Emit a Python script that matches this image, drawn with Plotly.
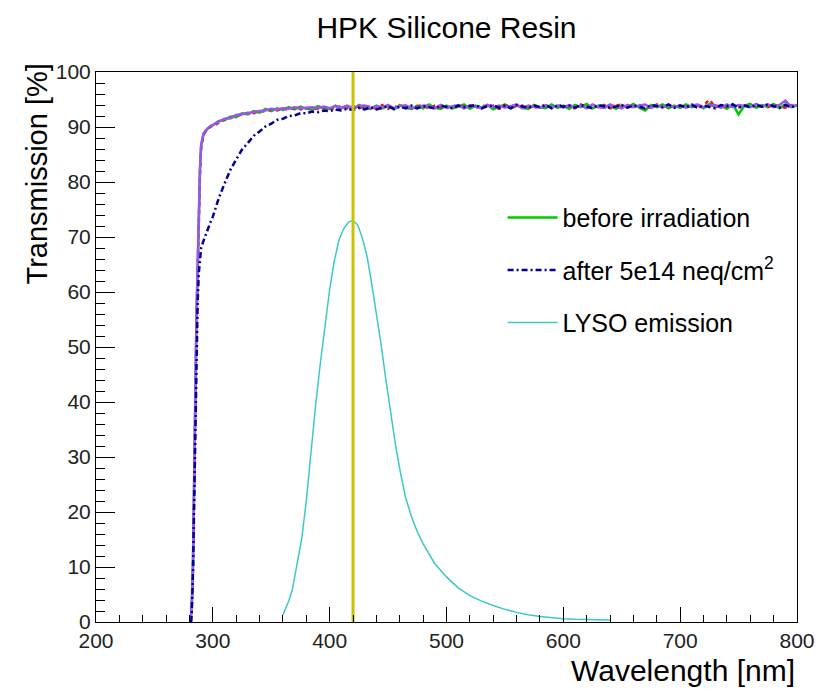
import plotly.graph_objects as go

# ---------------- data ----------------
edge_wl = [281, 282, 283, 284, 285, 286, 287, 288, 289, 290, 291, 292, 294, 296, 298]
main_wl = list(range(300, 801, 5))

before_edge = [0, 3, 10, 22, 40, 55, 66, 75, 82, 86.5, 88.0, 88.7, 89.3, 89.8, 90.0]
before_main = [
    90.3, 91.1, 91.2, 91.9, 91.8, 92.5, 92.3, 92.9, 92.6, 93.3, 92.9, 93.4, 93.1, 93.6, 93.2, 93.7, 93.3, 93.2, 93.8, 93.4,
    93.3, 93.9, 93.4, 93.8, 93.2, 94.0, 93.5, 93.3, 93.9, 93.4, 93.8, 93.2, 94.0, 93.5, 93.3, 93.9, 93.4, 94.1, 93.5, 93.3,
    93.9, 93.4, 93.7, 94.1, 93.3, 93.9, 93.5, 94.0, 93.2, 93.7, 94.1, 93.4, 93.9, 93.5, 93.3, 94.0, 93.6, 93.4, 94.1, 93.5,
    93.9, 93.3, 94.0, 93.6, 94.2, 93.4, 93.9, 93.5, 94.1, 93.3, 93.9, 93.6, 94.2, 93.5, 93.0, 94.0, 93.6, 94.1, 93.4, 93.9,
    93.5, 94.1, 93.6, 94.0, 93.4, 94.2, 93.6, 93.9, 93.3, 94.1, 92.3, 93.9, 94.2, 93.5, 94.0, 93.6, 94.2, 93.4, 94.1, 93.6,
    93.9]

sampleB_edge = [0, 2.5, 9, 21, 39, 54, 65.5, 74.5, 81.5, 86.2, 87.9, 88.6, 89.2, 89.7, 90.1]
sampleB_main = [
    90.1, 90.8, 91.4, 91.6, 92.1, 92.2, 92.6, 92.5, 92.9, 92.8, 93.2, 93.0, 93.4, 93.1, 93.5, 93.2, 93.5, 93.3, 93.3, 93.6,
    93.5, 93.2, 93.9, 93.4, 93.8, 93.3, 93.9, 93.6, 93.3, 94.0, 93.3, 93.8, 93.5, 93.9, 93.4, 93.8, 94.0, 93.3, 93.9, 93.6,
    93.4, 94.0, 93.5, 93.8, 93.9, 93.4, 94.1, 93.5, 93.9, 93.3, 93.8, 94.0, 93.5, 93.9, 93.6, 93.4, 94.0, 93.7, 93.5, 93.8,
    94.0, 93.6, 93.4, 94.1, 93.5, 93.9, 93.6, 94.0, 93.4, 93.9, 94.1, 93.5, 93.8, 94.0, 93.7, 93.5, 94.1, 93.6, 93.9, 93.5,
    93.9, 93.6, 94.1, 93.5, 93.9, 95.0, 93.6, 94.0, 93.5, 93.9, 93.6, 94.1, 93.5, 94.0, 93.7, 93.6, 94.1, 93.7, 93.5, 94.0,
    93.6]

sampleC_edge = [0, 3.5, 11, 23, 41, 56, 67, 76, 82.5, 86.8, 88.2, 88.8, 89.4, 89.9, 90.2]
sampleC_main = [
    90.4, 90.9, 91.5, 91.6, 92.2, 92.3, 92.5, 92.8, 92.9, 93.0, 93.3, 93.2, 93.4, 93.3, 93.6, 93.4, 93.5, 93.6, 93.4, 93.7,
    93.4, 93.8, 93.5, 93.9, 93.4, 93.8, 93.9, 93.4, 93.8, 93.5, 94.0, 93.4, 93.8, 93.9, 93.5, 93.4, 93.9, 93.8, 93.4, 94.0,
    93.5, 93.8, 94.0, 93.4, 93.9, 93.7, 93.4, 94.0, 93.6, 93.9, 93.5, 93.8, 94.1, 93.4, 93.9, 93.7, 93.5, 94.0, 93.6, 93.9,
    93.5, 94.0, 93.6, 93.9, 93.4, 94.1, 93.6, 93.5, 94.0, 93.8, 93.4, 94.0, 93.6, 93.9, 94.1, 93.5, 93.9, 93.6, 94.0, 93.6,
    94.0, 93.5, 93.9, 94.1, 93.6, 93.9, 94.0, 93.5, 94.1, 93.6, 94.0, 93.8, 93.6, 94.2, 93.7, 94.1, 93.6, 94.0, 94.8, 93.7,
    94.0]

after_edge_wl = [281.5, 282, 283, 284, 285, 286, 287, 288, 289, 290, 292, 294, 296, 298]
after_edge = [0, 2, 9, 20, 36, 49, 58, 63.5, 66.5, 68, 69.3, 70.5, 71.6, 72.7]
after_main = [
    73.7, 77.0, 79.7, 82.2, 84.1, 85.9, 87.1, 88.4, 89.2, 90.1, 90.6, 91.3, 91.5, 92.0, 92.1, 92.5, 92.5, 92.8, 92.7, 93.0,
    92.9, 93.2, 93.0, 93.3, 93.1, 93.5, 93.2, 93.6, 93.2, 93.5, 93.8, 93.3, 93.7, 93.4, 93.9, 93.4, 93.8, 93.6, 93.4, 93.9,
    93.6, 93.4, 93.9, 93.6, 93.8, 94.0, 93.4, 93.8, 93.9, 93.5, 93.9, 93.4, 94.0, 93.7, 93.5, 93.9, 93.6, 94.0, 93.4, 93.9,
    93.7, 93.9, 93.5, 94.0, 93.7, 93.4, 94.0, 93.8, 93.5, 93.7, 94.0, 93.5, 93.9, 93.7, 93.4, 94.0, 93.8, 93.6, 94.1, 93.5,
    93.9, 93.6, 94.0, 93.5, 93.9, 93.7, 93.4, 94.0, 93.8, 94.1, 93.5, 93.9, 93.6, 94.0, 93.7, 94.1, 93.8, 93.5, 94.0, 93.6,
    93.9]

lyso_wl = [360, 362, 365, 368, 372, 376, 380, 384, 388, 392, 396, 400, 404, 408, 412, 416, 420,
           424, 428, 432, 436, 440, 444, 448, 452, 456, 460, 465, 470, 475, 480, 485, 490,
           500, 510, 520, 530, 540, 550, 560, 570, 580, 590, 600, 610, 620, 630, 640]
lyso_em = [1.3, 2.3, 3.8, 5.8, 10.5, 15.0, 22.0, 31.0, 39.5, 47.0, 54.0, 60.5, 65.7, 69.5, 71.5, 72.7, 73.0,
           72.2, 69.8, 66.5, 61.5, 56.3, 50.5, 44.2, 38.0, 32.7, 27.8, 22.6, 19.2, 16.4, 14.2, 12.3, 10.6,
           8.2, 6.2, 4.8, 3.8, 3.0, 2.3, 1.75, 1.3, 1.0, 0.75, 0.6, 0.5, 0.45, 0.4, 0.35]

marker_wl = [420, 420]
marker_y = [0, 100]

FONT = "Liberation Sans, Arial, Helvetica, sans-serif"

fig = go.Figure()
fig.add_trace(go.Scatter(x=edge_wl + main_wl, y=before_edge + before_main, mode="lines",
                         name="before irradiation", legendgroup="a",
                         line=dict(color="#00c800", width=2.5)))
fig.add_trace(go.Scatter(x=edge_wl + main_wl, y=sampleB_edge + sampleB_main, mode="lines",
                         showlegend=False, line=dict(color="#dd2020", width=2.5, dash="4px,4px")))
fig.add_trace(go.Scatter(x=edge_wl + main_wl, y=sampleC_edge + sampleC_main, mode="lines",
                         showlegend=False, line=dict(color="#9a55f0", width=2.5)))
fig.add_trace(go.Scatter(x=after_edge_wl + main_wl, y=after_edge + after_main, mode="lines",
                         name="after 5e14 neq/cm<sup>2</sup>", legendgroup="b",
                         line=dict(color="#000099", width=2.5, dash="6px,3px,2px,3px")))
fig.add_trace(go.Scatter(x=lyso_wl, y=lyso_em, mode="lines", name="LYSO emission", legendgroup="c",
                         line=dict(color="#3cc8c8", width=1.5)))
fig.add_trace(go.Scatter(x=marker_wl, y=marker_y, mode="lines", showlegend=False,
                         line=dict(color="#c8c400", width=3)))

fig.update_layout(
    width=816, height=691,
    margin=dict(l=96, r=19, t=72, b=69, autoexpand=False),
    paper_bgcolor="white", plot_bgcolor="white",
    font=dict(family=FONT, color="black"),
    title=dict(text="HPK Silicone Resin", x=(96 + 797) / 2 / 816, xanchor="center",
               y=1 - 27 / 691, yanchor="middle", yref="container",
               font=dict(size=30, family=FONT, color="black")),
    showlegend=True,
    legend=dict(x=0.58, y=0.777, xanchor="left", yanchor="top",
                bgcolor="rgba(0,0,0,0)", borderwidth=0,
                font=dict(size=25, family=FONT, color="black"),
                tracegroupgap=17, itemwidth=50),
    annotations=[
        dict(text="Wavelength [nm]", xref="paper", yref="paper", x=1, y=-(670 - 622) / 550,
             xanchor="right", yanchor="middle", showarrow=False,
             font=dict(size=30, family=FONT, color="black")),
        dict(text="Transmission [%]", xref="paper", yref="paper", x=(36 - 96) / 701, y=1 + (72 - 62) / 550,
             xanchor="center", yanchor="top", textangle=-90, showarrow=False,
             font=dict(size=29, family=FONT, color="black")),
    ],
)

fig.update_xaxes(range=[200, 800], tickmode="array", tickvals=[200, 300, 400, 500, 600, 700, 800],
                 ticks="inside", ticklen=15, tickwidth=1, tickcolor="black", automargin=False,
                 minor=dict(ticks="inside", ticklen=7, dtick=20, tickcolor="black", showgrid=False),
                 showgrid=False, zeroline=False, showline=True, linecolor="black", linewidth=1, mirror=True,
                 tickfont=dict(size=21, family=FONT, color="#222"))
fig.update_yaxes(range=[0, 100], tickmode="linear", tick0=0, dtick=10,
                 ticks="inside", ticklen=19, tickwidth=1, tickcolor="black", automargin=False,
                 minor=dict(ticks="inside", ticklen=9, dtick=2, tickcolor="black", showgrid=False),
                 showgrid=False, zeroline=False, showline=True, linecolor="black", linewidth=1, mirror=True,
                 tickfont=dict(size=21, family=FONT, color="#222"))

fig.write_html("out.html", config={"displayModeBar": False},
               post_script="document.body.style.margin='0px';")
